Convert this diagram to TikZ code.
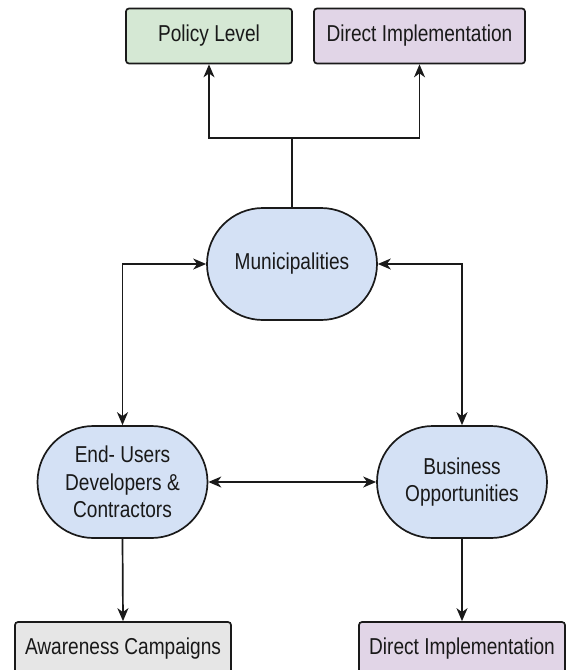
\documentclass[tikz,border=0pt]{standalone}
\usepackage{fontspec}
\setmainfont{Liberation Sans}[FakeStretch=0.83]
\usetikzlibrary{arrows.meta}
\definecolor{cgreen}{HTML}{D5E8D4}
\definecolor{cpurple}{HTML}{E1D5E7}
\definecolor{cblue}{HTML}{D4E1F5}
\definecolor{cgrey}{HTML}{E6E6E6}
\definecolor{cline}{HTML}{1A1A1A}
\begin{document}
\begin{tikzpicture}[x=1pt,y=-1pt,
  every node/.style={font=\fontsize{23}{27.5}\selectfont, text=black!90},
  rbox/.style={draw=cline, line width=1.7pt, rounded corners=3pt, inner sep=0pt, anchor=center},
  stad/.style={draw=cline, line width=1.7pt, rounded corners=56pt, fill=cblue, minimum width=170pt, minimum height=112pt, inner sep=0pt, align=center},
  conn/.style={draw=cline, line width=1.7pt},
  tip/.style={-{Stealth[length=13pt,width=11pt,inset=4pt]}},
  dtip/.style={{Stealth[length=13pt,width=11pt,inset=4pt]}-{Stealth[length=13pt,width=11pt,inset=4pt]}}
]
\useasboundingbox (0,0) rectangle (566,670);
\node[rbox, fill=cgreen, minimum width=166pt, minimum height=55pt] (pol) at (209,36) {Policy Level};
\node[rbox, fill=cpurple, minimum width=211pt, minimum height=55pt] (dtop) at (419.5,36) {Direct Implementation};
\node[stad] (mun) at (292,264) {Municipalities};
\node[stad] (eu) at (122.5,482) {End- Users\\Developers \&\\Contractors};
\node[stad] (bus) at (462,482) {Business\\Opportunities};
\node[rbox, fill=cgrey, minimum width=216pt, minimum height=54pt] (aw) at (123,649) {Awareness Campaigns};
\node[rbox, fill=cpurple, minimum width=206pt, minimum height=54pt] (dbot) at (462,649) {Direct Implementation};
\coordinate (j) at (292,138);
\draw[conn] (mun.north) -- (j);
\draw[conn, tip] (j) -| (pol.south);
\draw[conn, tip] (j) -| (dtop.south);
\draw[conn, dtip] (mun.west) -| (eu.north);
\draw[conn, dtip] (mun.east) -| (bus.north);
\draw[conn, dtip] (eu.east) -- (bus.west);
\draw[conn, tip] (eu.south) -- (aw.north);
\draw[conn, tip] (bus.south) -- (dbot.north);
\end{tikzpicture}
\end{document}
